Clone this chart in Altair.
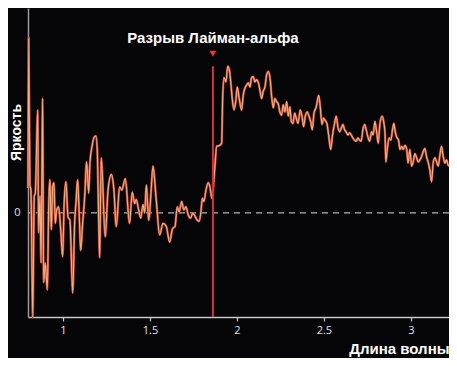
import altair as alt
import pandas as pd

wavelength = [0.799, 0.803, 0.810, 0.816, 0.826, 0.835, 0.841, 0.855, 0.860, 0.868, 0.874, 0.883, 0.889, 0.898, 0.910, 0.918, 0.925, 0.933, 0.941, 0.948,
              0.956, 0.964, 0.975, 0.987, 0.998, 1.007, 1.017, 1.029, 1.040, 1.056, 1.067, 1.075, 1.084, 1.094, 1.102, 1.113, 1.125, 1.136, 1.148, 1.155,
              1.167, 1.180, 1.190, 1.197, 1.205, 1.211, 1.220, 1.243, 1.259, 1.278, 1.293, 1.306, 1.326, 1.339, 1.358, 1.383, 1.398, 1.412, 1.421, 1.435,
              1.447, 1.460, 1.470, 1.479, 1.493, 1.507, 1.517, 1.536, 1.556, 1.575, 1.594, 1.613, 1.630, 1.644, 1.657, 1.668, 1.682, 1.695, 1.707, 1.720,
              1.734, 1.745, 1.759, 1.772, 1.783, 1.793, 1.801, 1.810, 1.822, 1.835, 1.845, 1.856, 1.874, 1.883, 1.902, 1.912, 1.918, 1.925, 1.937, 1.947,
              1.956, 1.966, 1.973, 1.983, 1.993, 2.002, 2.013, 2.027, 2.036, 2.046, 2.056, 2.065, 2.075, 2.084, 2.094, 2.103, 2.113, 2.122, 2.132, 2.142,
              2.151, 2.161, 2.171, 2.180, 2.190, 2.199, 2.209, 2.218, 2.228, 2.237, 2.247, 2.257, 2.266, 2.276, 2.286, 2.295, 2.305, 2.312, 2.322, 2.332,
              2.341, 2.351, 2.364, 2.374, 2.383, 2.393, 2.404, 2.414, 2.424, 2.433, 2.443, 2.456, 2.470, 2.479, 2.489, 2.498, 2.507, 2.517, 2.527, 2.539,
              2.548, 2.561, 2.571, 2.580, 2.590, 2.599, 2.609, 2.619, 2.628, 2.638, 2.648, 2.657, 2.667, 2.676, 2.686, 2.695, 2.705, 2.714, 2.724, 2.734,
              2.743, 2.753, 2.763, 2.774, 2.783, 2.793, 2.803, 2.812, 2.822, 2.835, 2.845, 2.851, 2.856, 2.864, 2.875, 2.885, 2.895, 2.902, 2.910, 2.918,
              2.929, 2.937, 2.947, 2.956, 2.966, 2.975, 2.984, 2.994, 3.004, 3.013, 3.023, 3.033, 3.042, 3.052, 3.061, 3.071, 3.080, 3.090, 3.099, 3.109,
              3.119, 3.128, 3.138, 3.148, 3.157, 3.167, 3.176, 3.186, 3.195, 3.205, 3.214, 3.224, 3.234, 3.243, 3.253, 3.263]

brightness = [0.24, 1.68, 0.27, 0.22, -1.00, 0.16, 0.19, 0.99, -0.19, 0.16, -0.48, 1.10, -0.67, -0.48, -0.74, 0.06, 0.32, -0.16, 0.25, 0.29,
              -0.10, 0.03, 0.06, -0.16, -0.42, 0.10, 0.30, -0.04, -0.07, -0.77, -0.10, 0.10, 0.32, -0.04, -0.36, -0.10, 0.16, 0.49, 0.19, 0.48,
              0.64, 0.73, 0.74, 0.61, -0.04, -0.43, 0.53, -0.23, 0.22, 0.37, 0.22, -0.13, 0.25, 0.22, 0.33, -0.10, 0.20, 0.09, 0.13, 0.03,
              -0.05, 0.08, 0.00, 0.27, -0.07, 0.22, 0.45, 0.13, -0.21, -0.10, -0.13, -0.28, -0.15, -0.13, 0.06, 0.01, 0.11, 0.03, 0.06, -0.02,
              -0.05, 0.00, -0.03, -0.07, -0.08, 0.01, 0.14, 0.11, 0.22, 0.29, 0.25, 0.14, 0.46, 0.64, 0.65, 0.67, 1.10, 1.30, 1.26, 1.41,
              1.38, 1.23, 1.10, 0.99, 1.07, 1.21, 1.10, 0.99, 1.13, 1.20, 1.23, 1.25, 1.21, 1.30, 1.31, 1.26, 1.28, 1.26, 1.18, 1.10,
              1.17, 1.21, 1.33, 1.36, 1.30, 1.13, 1.01, 1.10, 1.07, 1.05, 0.97, 0.94, 1.04, 0.97, 1.07, 0.93, 1.02, 0.88, 0.86, 0.96,
              0.91, 0.86, 0.99, 0.93, 0.83, 0.93, 0.97, 0.93, 0.88, 0.80, 0.96, 1.02, 1.13, 1.02, 0.85, 0.91, 0.89, 0.86, 0.75, 0.61,
              0.73, 0.86, 0.93, 0.83, 0.78, 0.81, 0.85, 0.80, 0.78, 0.75, 0.77, 0.75, 0.72, 0.70, 0.69, 0.72, 0.70, 0.69, 0.80, 0.85,
              0.80, 0.73, 0.69, 0.78, 0.75, 0.88, 0.78, 0.67, 0.86, 0.93, 0.86, 0.77, 0.49, 0.61, 0.72, 0.70, 0.81, 0.86, 0.78, 0.73,
              0.70, 0.61, 0.64, 0.61, 0.65, 0.62, 0.48, 0.61, 0.45, 0.49, 0.57, 0.53, 0.49, 0.51, 0.54, 0.59, 0.62, 0.54, 0.49, 0.41,
              0.30, 0.48, 0.53, 0.49, 0.45, 0.56, 0.64, 0.54, 0.48, 0.51, 0.46, 0.45, 0.49, 0.45, 0.54, 0.59]

x_ticks = [1, 1.5, 2, 2.5, 3]
y_ticks = [0]
break_label = ["Разрыв Лайман-альфа"]
break_wavelength = [1.862]
break_line_top = [1.41]
break_marker_level = [1.53]
break_label_level = [1.68]

x_domain = [0.799, 3.219]
y_domain = [-1.0, 1.97]

pairs = list(zip(wavelength, brightness))
spec_df = pd.DataFrame({"wl": [p[0] for p in pairs], "b": [p[1] for p in pairs]})

xscale = alt.Scale(domain=x_domain, nice=False, zero=False)
yscale = alt.Scale(domain=y_domain, nice=False, zero=False)

x_axis = alt.Axis(
    values=x_ticks, format="~g", grid=False,
    domainColor="#c8c8c8", domainWidth=1.5, tickColor="#c8c8c8", tickSize=4, tickWidth=1.2,
    labelColor="#e2e2e2", labelFontSize=11, labelFont="Open Sans", labelPadding=3,
    title="Длина волны", titleColor="#ffffff", titleFont="Liberation Sans", titleFontSize=15,
    titleFontWeight="bold", titleAlign="right", titleBaseline="middle", titleX=421, titleY=31,
)
y_axis = alt.Axis(
    values=y_ticks, format="~g", grid=False, ticks=False,
    domainColor="#9a9a9a", domainWidth=1.5,
    labelColor="#e2e2e2", labelFontSize=11, labelFont="Open Sans", labelPadding=8,
    title="Яркость", titleColor="#ffffff", titleFont="Liberation Sans", titleFontSize=14,
    titleFontWeight="bold", titleAngle=270, titleAlign="center", titleBaseline="middle",
    titleX=-12, titleY=124,
)

zero_df = pd.DataFrame({"y": y_ticks})
zero_line = alt.Chart(zero_df).mark_rule(color="#b4b4b4", strokeWidth=1.3, strokeDash=[6, 5]).encode(
    y=alt.Y("y:Q", scale=yscale, axis=y_axis)
)

line_under = alt.Chart(spec_df).mark_line(color="#b8442e", strokeWidth=2.4, interpolate="monotone").encode(
    x=alt.X("wl:Q", scale=xscale, axis=x_axis),
    y=alt.Y("b:Q", scale=yscale, axis=y_axis),
)
line_over = alt.Chart(spec_df).mark_line(color="#f3ae84", strokeWidth=1.1, interpolate="monotone").encode(
    x=alt.X("wl:Q", scale=xscale, axis=x_axis),
    y=alt.Y("b:Q", scale=yscale, axis=y_axis),
)

break_df = pd.DataFrame({
    "wl": break_wavelength, "top": break_line_top, "bottom": [y_domain[0]],
    "mark": break_marker_level, "lab_y": break_label_level, "label": break_label,
})
break_rule = alt.Chart(break_df).mark_rule(color="#d8313a", strokeWidth=2).encode(
    x=alt.X("wl:Q", scale=xscale, axis=x_axis), y=alt.Y("bottom:Q", scale=yscale, axis=y_axis), y2="top:Q"
)
break_marker = alt.Chart(break_df).mark_point(shape="triangle-down", filled=True, color="#e8383f", size=45, opacity=1).encode(
    x=alt.X("wl:Q", scale=xscale, axis=x_axis), y=alt.Y("mark:Q", scale=yscale, axis=y_axis)
)
break_text = alt.Chart(break_df).mark_text(
    color="#ffffff", font="Liberation Sans", fontSize=15, fontWeight="bold", align="center", baseline="middle"
).encode(
    x=alt.X("wl:Q", scale=xscale, axis=x_axis), y=alt.Y("lab_y:Q", scale=yscale, axis=y_axis), text="label:N"
)

chart = alt.layer(zero_line, line_under, line_over, break_rule, break_marker, break_text).properties(
    width=421, height=309,
    padding={"left": 20, "top": 0, "right": 0, "bottom": 41},
    autosize=alt.AutoSizeParams(type="none"),
    background="#050507",
).configure_view(stroke=None)

chart.save("out.html", embed_options={"renderer": "svg", "actions": False})
